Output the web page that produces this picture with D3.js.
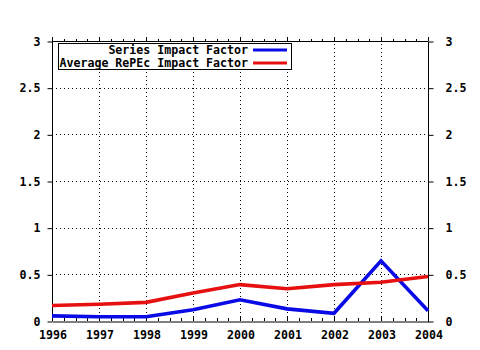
<!DOCTYPE html>
<html><head><meta charset="utf-8">
<script src="https://cdn.jsdelivr.net/npm/d3@7"></script>
<style>body{margin:0;background:#fff}svg{display:block}</style>
</head><body>
<script>
const years = [1996,1997,1998,1999,2000,2001,2002,2003,2004];
const seriesIF = [0.055,0.045,0.045,0.12,0.227,0.13,0.083,0.645,0.11];
const avgRePEcIF = [0.166,0.18,0.20,0.30,0.39,0.345,0.39,0.415,0.476];
const yTicks = [0,0.5,1,1.5,2,2.5,3];
const yTickLabels = ["0","0.5","1","1.5","2","2.5","3"];
const seriesNames = ["Series Impact Factor","Average RePEc Impact Factor"];
const colors = ["#0a0ae6","#e61010"];

const W=480,H=350;
const svg=d3.select("body").append("svg").attr("width",W).attr("height",H);
const x=d3.scaleLinear().domain([1996,2004]).range([52,428]);
const y=d3.scaleLinear().domain([0,3]).range([321,41]);
const font="'DejaVu Sans Mono', monospace";

// grid
const g=svg.append("g");
g.selectAll(".vg").data(years.slice(1,-1)).join("line")
 .attr("x1",d=>Math.round(x(d))+0.5).attr("x2",d=>Math.round(x(d))+0.5).attr("y1",y(0)).attr("y2",y(3))
 .attr("stroke","#000").attr("stroke-dasharray","1,3").attr("stroke-width",1);
g.selectAll(".hg").data(yTicks.slice(1,-1)).join("line")
 .attr("x1",x(1996)).attr("x2",x(2004)).attr("y1",d=>Math.round(y(d))+0.5).attr("y2",d=>Math.round(y(d))+0.5)
 .attr("stroke","#000").attr("stroke-dasharray","1,3").attr("stroke-width",1);

// axes
const fmt=(d)=>yTickLabels[yTicks.indexOf(d)];
const left=d3.axisLeft(y).tickValues(yTicks).tickFormat(fmt).tickSize(5).tickPadding(7);
const right=d3.axisRight(y).tickValues(yTicks).tickFormat(fmt).tickSize(5).tickPadding(12);
const quarters=d3.range(1996,2004.01,0.25);
const bottom=d3.axisBottom(x).tickValues(years).tickFormat(d3.format("d")).tickSize(0).tickPadding(9);
function styleAxis(sel){
  sel.select(".domain").attr("stroke","#000");
  sel.selectAll(".tick line").attr("stroke","#000");
  sel.selectAll("text").attr("font-family",font).attr("font-weight","bold").attr("font-size","11.6px").attr("fill","#000");
}
svg.append("g").attr("transform","translate(52.5,0.5)").call(left).call(styleAxis).select(".domain").attr("d",`M-0,${y(3)}V${y(0)}`);
svg.append("g").attr("transform","translate(428.5,0.5)").call(right).call(styleAxis).select(".domain").attr("d",`M0,${y(3)}V${y(0)}`);
svg.append("g").attr("transform",`translate(0.5,${y(0)+0.5})`).call(bottom).call(styleAxis);
svg.append("line").attr("x1",x(1996)).attr("x2",x(2004)).attr("y1",y(3)+0.5).attr("y2",y(3)+0.5).attr("stroke","#000");
// minor ticks
svg.append("g").selectAll("line").data(quarters).join("line")
 .attr("x1",d=>Math.round(x(d))+0.5).attr("x2",d=>Math.round(x(d))+0.5)
 .attr("y1",y(0)).attr("y2",d=>y(0)-(Number.isInteger(d)?5:3)).attr("stroke","#000");
svg.append("g").selectAll("line").data(quarters).join("line")
 .attr("x1",d=>Math.round(x(d))+0.5).attr("x2",d=>Math.round(x(d))+0.5)
 .attr("y1",y(3)).attr("y2",d=>y(3)-(Number.isInteger(d)?4:2)).attr("stroke","#000");

// lines
const line=d3.line().x((d,i)=>x(years[i])).y(d=>y(d));
[seriesIF,avgRePEcIF].forEach((s,i)=>{
  svg.append("path").datum(s).attr("d",line).attr("fill","none")
   .attr("stroke",colors[i]).attr("stroke-width",3.6).attr("stroke-linejoin","miter");
});

// legend
const lg=svg.append("g");
lg.append("rect").attr("x",58.5).attr("y",43.5).attr("width",233).attr("height",26).attr("fill","#fff").attr("stroke","#000");
seriesNames.forEach((n,i)=>{
  const yy=50+i*13;
  lg.append("text").attr("x",248).attr("y",yy+4).attr("text-anchor","end")
   .attr("font-family",font).attr("font-weight","bold").attr("font-size","11.6px").text(n);
  lg.append("line").attr("x1",253).attr("x2",287).attr("y1",yy).attr("y2",yy)
   .attr("stroke",colors[i]).attr("stroke-width",3);
});
</script>
</body></html>
